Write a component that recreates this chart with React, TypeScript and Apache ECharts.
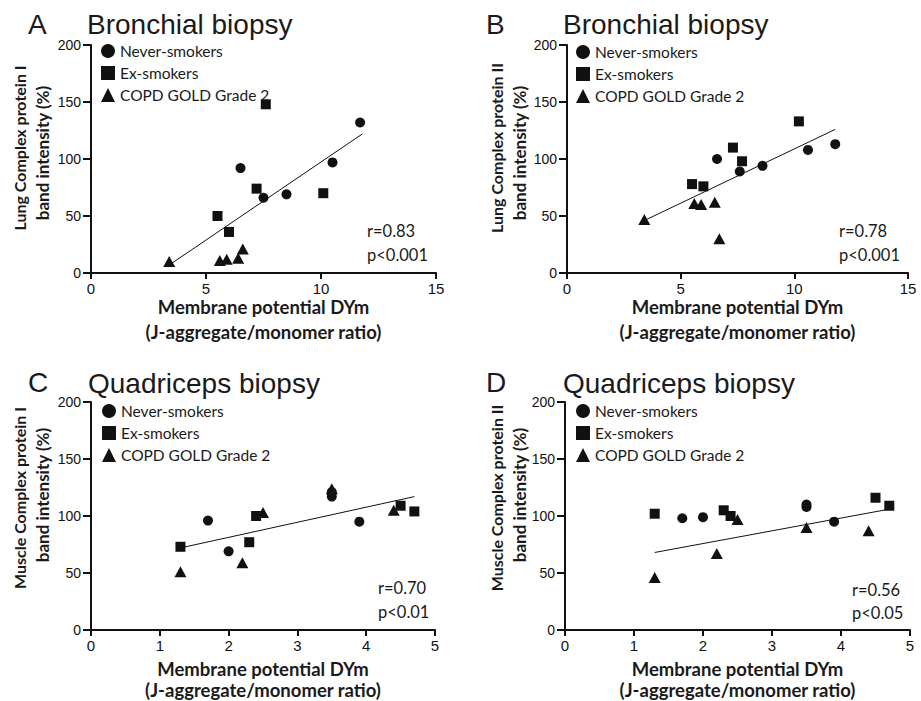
import React, { useEffect, useRef } from "react";
import * as echarts from "echarts";

// ---------- data ----------
const groupNames = ["Never-smokers", "Ex-smokers", "COPD GOLD Grade 2"];
const groupSymbols = ["circle", "rect", "triangle"];

const panelLetters = ["A", "B", "C", "D"];
const panelTitles = ["Bronchial biopsy", "Bronchial biopsy", "Quadriceps biopsy", "Quadriceps biopsy"];
const yTitleLine1 = ["Lung Complex protein I", "Lung Complex protein II", "Muscle Complex protein I", "Muscle Complex protein II"];
const yTitleLine2 = "band intensity (%)";
const xTitleLine1 = "Membrane potential DYm";
const xTitleLine2 = "(J-aggregate/monomer ratio)";
const rValues = ["r=0.83", "r=0.78", "r=0.70", "r=0.56"];
const pValues = ["p<0.001", "p<0.001", "p<0.01", "p<0.05"];

const yTicks = [0, 50, 100, 150, 200];
const bronchialXTicks = [0, 5, 10, 15];
const quadricepsXTicks = [0, 1, 2, 3, 4, 5];

// Panel A: bronchial, complex I
const aNever = [[11.7, 132], [10.5, 97], [6.5, 92], [7.5, 66], [8.5, 69]];
const aEx = [[7.6, 148], [7.2, 74], [10.1, 70], [5.5, 50], [6.0, 36]];
const aCopd = [[3.4, 10], [5.6, 11], [5.9, 12], [6.4, 13], [6.6, 21]];
const aFit = [[3.4, 7], [11.8, 122]];

// Panel B: bronchial, complex II
const bNever = [[11.8, 113], [10.6, 108], [6.6, 100], [8.6, 94], [7.6, 89]];
const bEx = [[10.2, 133], [7.3, 110], [7.7, 98], [5.5, 78], [6.0, 76]];
const bCopd = [[3.4, 47], [5.6, 61], [5.9, 60], [6.5, 62], [6.7, 30]];
const bFit = [[3.4, 46], [11.8, 126]];

// Panel C: quadriceps, complex I
const cNever = [[1.7, 96], [2.0, 69], [3.5, 117], [3.5, 121], [3.9, 95]];
const cEx = [[1.3, 73], [2.4, 100], [2.3, 77], [4.7, 104], [4.5, 109]];
const cCopd = [[1.3, 51], [2.2, 59], [2.5, 103], [3.5, 124], [4.4, 105]];
const cFit = [[1.3, 72], [4.7, 117]];

// Panel D: quadriceps, complex II
const dNever = [[1.7, 98], [2.0, 99], [3.5, 110], [3.5, 108], [3.9, 95]];
const dEx = [[1.3, 102], [2.3, 105], [2.4, 100], [4.5, 116], [4.7, 109]];
const dCopd = [[1.3, 46], [2.2, 67], [2.5, 97], [3.5, 90], [4.4, 87]];
const dFit = [[1.3, 68], [4.7, 106]];

const panelGroups = [
  [aNever, aEx, aCopd],
  [bNever, bEx, bCopd],
  [cNever, cEx, cCopd],
  [dNever, dEx, dCopd],
];
const panelFits = [aFit, bFit, cFit, dFit];
const panelXTicks = [bronchialXTicks, bronchialXTicks, quadricepsXTicks, quadricepsXTicks];

// ---------- layout ----------
const grids = [
  { left: 91, top: 45, width: 345, height: 228 },
  { left: 567, top: 45, width: 341, height: 228 },
  { left: 91, top: 402, width: 344, height: 228 },
  { left: 565, top: 402, width: 345, height: 228 },
];
const letterPos = [[28, 24], [486, 24], [28, 382], [486, 382]];
const titlePos = [[87, 24], [563, 24], [88, 383], [563, 383]];
const yName1Pos = [[19, 148], [496, 148], [19, 498], [496, 498]];
const yName2Pos = [[42.5, 153], [519.5, 153], [42, 495], [519, 495]];
const xNameY = [[307, 332], [307, 332], [669, 690], [669, 690]];
const rpPos = [[367, 231, 255], [839, 231, 255], [378, 588, 612], [852, 590, 613]];
const legendPos = [[101, 43], [576, 44], [102, 403], [576, 403]];

const INK = "#111";
const TEXT = "#1a1a1a";
const symbolSizes: any[] = [10, 10, [12, 11]];

function textEl(text: string, x: number, y: number, size: number, opts: any = {}) {
  const align = opts.align || "left";
  return {
    type: "text",
    x,
    y,
    rotation: opts.rotation || 0,
    silent: true,
    style: {
      text,
      fill: TEXT,
      fontSize: size,
      fontFamily: opts.family || "Lato",
      fontWeight: opts.weight || "normal",
      align,
      verticalAlign: "middle",
      textAlign: align,
      textVerticalAlign: "middle",
    },
  };
}

export default function App() {
  const ref = useRef<HTMLDivElement>(null);

  useEffect(() => {
    if (!ref.current) return;
    const chart = echarts.init(ref.current, null, { renderer: "svg" });

    const axisLine = { show: true, onZero: false, lineStyle: { color: INK, width: 2 } };

    const xAxis = grids.map((_, i) => {
      const t = panelXTicks[i];
      return {
        type: "value",
        gridIndex: i,
        min: t[0],
        max: t[t.length - 1],
        interval: t[1] - t[0],
        axisLine,
        axisTick: { show: true, length: 6, lineStyle: { color: INK, width: 2 } },
        axisLabel: { color: INK, fontSize: 15, fontFamily: "Liberation Sans", margin: 8 },
        splitLine: { show: false },
      };
    });
    const yAxis = grids.map((_, i) => ({
      type: "value",
      gridIndex: i,
      min: yTicks[0],
      max: yTicks[yTicks.length - 1],
      interval: yTicks[1] - yTicks[0],
      axisLine,
      axisTick: { show: true, length: 8, lineStyle: { color: INK, width: 2 } },
      axisLabel: { color: INK, fontSize: 14, fontFamily: "Liberation Sans", margin: 10 },
      splitLine: { show: false },
    }));

    const series: any[] = [];
    panelGroups.forEach((groups, i) => {
      series.push({
        type: "line",
        name: "fit",
        xAxisIndex: i,
        yAxisIndex: i,
        data: panelFits[i],
        symbol: "none",
        lineStyle: { color: INK, width: 1 },
        silent: true,
        z: 1,
      });
      groups.forEach((data, g) => {
        series.push({
          type: "scatter",
          name: groupNames[g],
          xAxisIndex: i,
          yAxisIndex: i,
          symbol: groupSymbols[g],
          symbolSize: symbolSizes[g],
          itemStyle: { color: INK, opacity: 1 },
          data,
          silent: true,
          z: 3,
        });
      });
    });

    const legend = legendPos.map(([l, t]) => ({
      left: l,
      top: t,
      orient: "vertical",
      itemWidth: 14,
      itemHeight: 14,
      itemGap: 6,
      selectedMode: false,
      padding: 0,
      textStyle: { fontFamily: "Lato", fontSize: 15.5, color: TEXT, lineHeight: 14 },
      data: groupNames.map((n, g) => ({ name: n, icon: groupSymbols[g] })),
    }));

    const graphic: any[] = [];
    for (let i = 0; i < 4; i++) {
      const g = grids[i];
      const cx = g.left + g.width / 2;
      graphic.push(textEl(panelLetters[i], letterPos[i][0], letterPos[i][1], 28, { family: "Liberation Sans" }));
      graphic.push(textEl(panelTitles[i], titlePos[i][0], titlePos[i][1], 28, { family: "Liberation Sans" }));
      graphic.push(textEl(yTitleLine1[i], yName1Pos[i][0], yName1Pos[i][1], 16, { weight: "bold", align: "center", rotation: Math.PI / 2 }));
      graphic.push(textEl(yTitleLine2, yName2Pos[i][0], yName2Pos[i][1], 17, { weight: "bold", align: "center", rotation: Math.PI / 2 }));
      graphic.push(textEl(xTitleLine1, cx, xNameY[i][0], 18.5, { weight: "bold", align: "center" }));
      graphic.push(textEl(xTitleLine2, cx, xNameY[i][1], 18.5, { weight: "bold", align: "center" }));
      graphic.push(textEl(rValues[i], rpPos[i][0], rpPos[i][1], 16.5));
      graphic.push(textEl(pValues[i], rpPos[i][0], rpPos[i][2], 16.5));
    }

    chart.setOption({
      animation: false,
      backgroundColor: "#fff",
      grid: grids.map((g) => ({ ...g, containLabel: false })),
      xAxis,
      yAxis,
      legend,
      series,
      graphic,
    });

    return () => chart.dispose();
  }, []);

  return (
    <div
      ref={ref}
      style={{ position: "fixed", left: 0, top: 0, width: 921, height: 701, background: "#fff" }}
    />
  );
}
